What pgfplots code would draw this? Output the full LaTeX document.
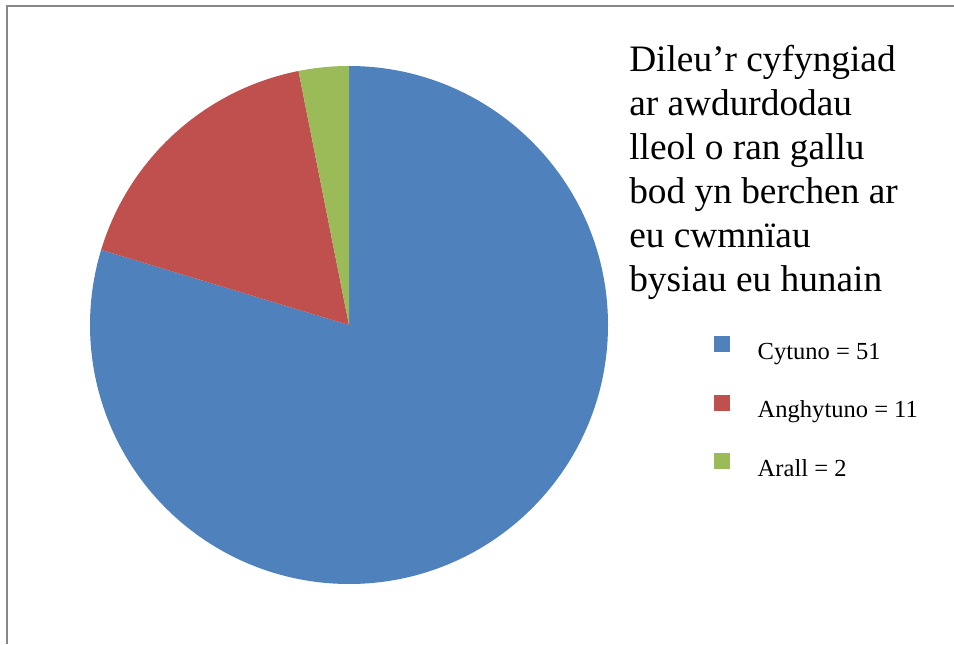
\documentclass[border=0pt]{standalone}
\usepackage{pgfplots}
\pgfplotsset{compat=1.18}
\usepackage{pgfplotstable}
\usepackage{fontspec}
\setmainfont{Liberation Serif}

\definecolor{cyBlue}{HTML}{4F81BD}
\definecolor{cyRed}{HTML}{C0504D}
\definecolor{cyGreen}{HTML}{9BBB59}
\definecolor{frame}{HTML}{888888}

\pgfplotstableread{
label value
Cytuno 51
Anghytuno 11
Arall 2
}\piedata

% slice angles, clockwise from the top
\pgfplotstablegetelem{0}{value}\of\piedata \let\va\pgfplotsretval
\pgfplotstablegetelem{1}{value}\of\piedata \let\vb\pgfplotsretval
\pgfplotstablegetelem{2}{value}\of\piedata \let\vc\pgfplotsretval
\pgfmathsetmacro\total{\va+\vb+\vc}
\pgfmathsetmacro\aA{90-\va/\total*360}
\pgfmathsetmacro\aB{\aA-\vb/\total*360}
\pgfmathsetmacro\aC{\aB-\vc/\total*360}

\begin{document}
\begin{tikzpicture}[x=0.75pt,y=0.75pt]
\useasboundingbox (0,0) rectangle (954,644);
\draw[frame, line width=1.5pt] (7,0) -- (7,638) -- (954,638);
\coordinate (pc) at (349,319);

\begin{axis}[
    at={(pc)}, anchor=center,
    x=194.25pt, y=194.25pt,
    xmin=-1, xmax=1, ymin=-1, ymax=1,
    hide axis, clip=false,
    legend style={
        at={(axis cs:1.409,-0.0425)}, anchor=north west,
        draw=none, fill=none, inner sep=0pt,
        row sep=22.25pt, column sep=21pt,
        nodes={inner sep=0pt, text height=12pt, text depth=4pt,
               font=\fontsize{18.4}{20}\selectfont},
    },
    legend cell align=left,
]
\fill[cyBlue] (axis cs:0,0) -- (axis cs:0,1)
    arc[start angle=90, end angle=\aA, radius=194.25pt] -- cycle;
\fill[cyRed] (axis cs:0,0) -- (axis cs:{cos(\aA)},{sin(\aA)})
    arc[start angle=\aA, end angle=\aB, radius=194.25pt] -- cycle;
\fill[cyGreen] (axis cs:0,0) -- (axis cs:{cos(\aB)},{sin(\aB)})
    arc[start angle=\aB, end angle=\aC, radius=194.25pt] -- cycle;

\addlegendimage{legend image code/.code={\fill[cyBlue] (0pt,2pt) rectangle (11.25pt,13.25pt);}}
\addlegendentry{Cytuno = 51}
\addlegendimage{legend image code/.code={\fill[cyRed] (0pt,2pt) rectangle (11.25pt,13.25pt);}}
\addlegendentry{Anghytuno = 11}
\addlegendimage{legend image code/.code={\fill[cyGreen] (0pt,2pt) rectangle (11.25pt,13.25pt);}}
\addlegendentry{Arall = 2}
\end{axis}

\node[anchor=north west, inner sep=0pt, align=left,
      font=\fontsize{28}{33}\selectfont] at (629,599)
    {Dileu’r cyfyngiad\\ar awdurdodau\\lleol o ran gallu\\bod yn berchen ar\\eu cwmnïau\\bysiau eu hunain};
\end{tikzpicture}
\end{document}
